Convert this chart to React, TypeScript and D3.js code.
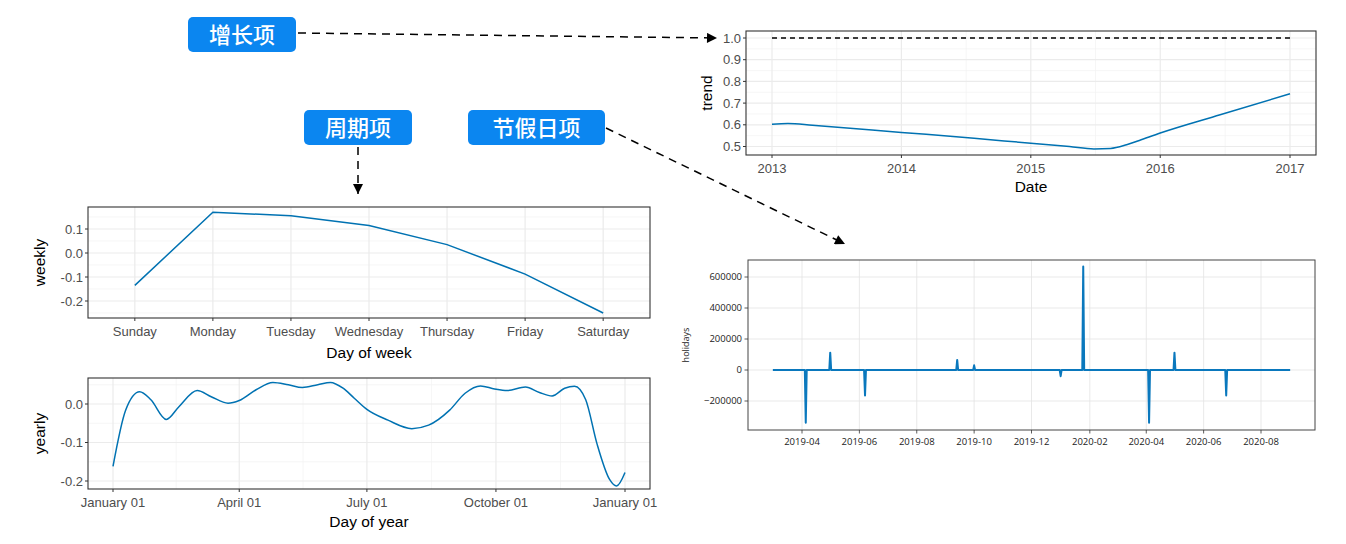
import * as d3 from "d3";

// trend component
const trendDates = ["2013-01-01", "2013-02-15", "2013-04-25", "2014-01-01", "2014-07-25", "2015-01-01", "2015-04-20", "2015-06-28", "2015-08-14", "2015-09-28", "2015-11-03", "2016-01-01", "2016-06-18", "2017-01-01"];
const trendValues = [0.603, 0.606, 0.598, 0.565, 0.538, 0.515, 0.5, 0.489, 0.491, 0.508, 0.528, 0.562, 0.646, 0.743];
const trendXTicks = ["2013", "2014", "2015", "2016", "2017"];
const trendYTicks = [0.5, 0.6, 0.7, 0.8, 0.9, 1.0];

// weekly component
const weekDays = ["Sunday", "Monday", "Tuesday", "Wednesday", "Thursday", "Friday", "Saturday"];
const weeklyValues = [-0.135, 0.17, 0.155, 0.115, 0.035, -0.088, -0.25];
const weeklyYTicks = [-0.2, -0.1, 0.0, 0.1];

// yearly component (day of year)
const yearlyDays = [0, 9, 19, 27, 38, 47, 60, 70, 82, 90, 102, 114, 125, 135, 146, 155, 164, 172, 181, 196, 213, 225, 240, 251, 262, 272, 281, 294, 304, 313, 322, 329, 337, 345, 354, 359, 365];
const yearlyValues = [-0.162, -0.016, 0.032, 0.011, -0.04, -0.007, 0.035, 0.019, 0.002, 0.009, 0.037, 0.056, 0.05, 0.043, 0.05, 0.056, 0.041, 0.015, -0.014, -0.042, -0.064, -0.055, -0.016, 0.028, 0.047, 0.039, 0.035, 0.044, 0.03, 0.021, 0.041, 0.046, 0.011, -0.103, -0.196, -0.213, -0.178];
const yearlyYTicks = [-0.2, -0.1, 0.0];
const yearlyXTicks = ["2017-01-01", "2017-04-01", "2017-07-01", "2017-10-01", "2018-01-01"];

// holidays component
const holidayRange = ["2019-03-01", "2020-09-01"];
const holidayDates = ["2019-04-05", "2019-05-01", "2019-06-07", "2019-09-13", "2019-10-01", "2020-01-01", "2020-01-25", "2020-04-04", "2020-05-01", "2020-06-25"];
const holidayValues = [-340000, 112000, -165000, 65000, 30000, -40000, 667000, -340000, 112000, -165000];
const holidayYTicks = [-200000, 0, 200000, 400000, 600000];
const holidayXTicks = ["2019-04-01", "2019-06-01", "2019-08-01", "2019-10-01", "2019-12-01", "2020-02-01", "2020-04-01", "2020-06-01", "2020-08-01"];

const LINE = "#0072B2";
const GG_FONT = "'Liberation Sans', Arial, sans-serif";
const MPL_FONT = "'Open Sans', 'DejaVu Sans', sans-serif";
const TICK = 13;
const TITLE = 15.5;
const parse = d3.timeParse("%Y-%m-%d");

const mid = (a: number[]) => a.slice(1).map((v, i) => (v + a[i]) / 2);

function GGFrame({ x0, x1, y0, y1 }: { x0: number; x1: number; y0: number; y1: number }) {
  return <rect x={x0} y={y0} width={x1 - x0} height={y1 - y0} fill="none" stroke="#333" strokeWidth={1.1} />;
}

function TrendPanel() {
  const x0 = 746, x1 = 1316, y0 = 31, y1 = 155;
  const dates = trendDates.map(d => parse(d)!);
  const x = d3.scaleTime().domain([parse("2013-01-01")!, parse("2017-01-01")!]).range([772, 1290]);
  const y = d3.scaleLinear().domain([0.5, 1.0]).range([146.5, 38]);
  const xt = trendXTicks.map(t => x(parse(t + "-01-01")!));
  const line = d3.line<number>().x((_, i) => x(dates[i])).y(v => y(v)).curve(d3.curveMonotoneX);
  return (
    <g fontFamily={GG_FONT}>
      {mid(trendYTicks).map(v => <line key={"ym" + v} x1={x0} x2={x1} y1={y(v)} y2={y(v)} stroke="#f2f2f2" strokeWidth={0.7} />)}
      {mid(xt).map(p => <line key={"xm" + p} x1={p} x2={p} y1={y0} y2={y1} stroke="#f2f2f2" strokeWidth={0.7} />)}
      {trendYTicks.map(v => <line key={"y" + v} x1={x0} x2={x1} y1={y(v)} y2={y(v)} stroke="#ebebeb" strokeWidth={1.2} />)}
      {xt.map(p => <line key={"x" + p} x1={p} x2={p} y1={y0} y2={y1} stroke="#ebebeb" strokeWidth={1.2} />)}
      <line x1={x(dates[0])} x2={x(dates[dates.length - 1])} y1={y(1)} y2={y(1)} stroke="#000" strokeWidth={1.3} strokeDasharray="5,4" />
      <path d={line(trendValues)!} fill="none" stroke={LINE} strokeWidth={1.5} />
      <GGFrame x0={x0} x1={x1} y0={y0} y1={y1} />
      {trendYTicks.map(v => (
        <g key={"yl" + v}>
          <line x1={x0 - 3} x2={x0} y1={y(v)} y2={y(v)} stroke="#333" />
          <text x={x0 - 5} y={y(v)} dy="0.35em" textAnchor="end" fontSize={TICK} fill="#4d4d4d">{v.toFixed(1)}</text>
        </g>
      ))}
      {trendXTicks.map((t, i) => (
        <g key={"xl" + t}>
          <line x1={xt[i]} x2={xt[i]} y1={y1} y2={y1 + 3} stroke="#333" />
          <text x={xt[i]} y={y1 + 18} textAnchor="middle" fontSize={TICK} fill="#4d4d4d">{t}</text>
        </g>
      ))}
      <text x={(x0 + x1) / 2} y={192} textAnchor="middle" fontSize={TITLE} fill="#000">Date</text>
      <text transform={`translate(712,${(y0 + y1) / 2}) rotate(-90)`} textAnchor="middle" fontSize={TITLE} fill="#000">trend</text>
    </g>
  );
}

function WeeklyPanel() {
  const x0 = 88, x1 = 650, y0 = 207, y1 = 318;
  const x = d3.scalePoint<string>().domain(weekDays).range([x0, x1]).padding(0.6);
  const y = d3.scaleLinear().domain([-0.2, 0.1]).range([301, 229]);
  const minor = [-0.25, -0.15, -0.05, 0.05, 0.15];
  const line = d3.line<number>().x((_, i) => x(weekDays[i])!).y(v => y(v));
  return (
    <g fontFamily={GG_FONT}>
      {minor.map(v => <line key={"ym" + v} x1={x0} x2={x1} y1={y(v)} y2={y(v)} stroke="#f2f2f2" strokeWidth={0.7} />)}
      {weeklyYTicks.map(v => <line key={"y" + v} x1={x0} x2={x1} y1={y(v)} y2={y(v)} stroke="#ebebeb" strokeWidth={1.2} />)}
      {weekDays.map(d => <line key={"x" + d} x1={x(d)} x2={x(d)} y1={y0} y2={y1} stroke="#ebebeb" strokeWidth={1.2} />)}
      <path d={line(weeklyValues)!} fill="none" stroke={LINE} strokeWidth={1.5} />
      <GGFrame x0={x0} x1={x1} y0={y0} y1={y1} />
      {weeklyYTicks.map(v => (
        <g key={"yl" + v}>
          <line x1={x0 - 3} x2={x0} y1={y(v)} y2={y(v)} stroke="#333" />
          <text x={x0 - 5} y={y(v)} dy="0.35em" textAnchor="end" fontSize={TICK} fill="#4d4d4d">{v.toFixed(1)}</text>
        </g>
      ))}
      {weekDays.map(d => (
        <g key={"xl" + d}>
          <line x1={x(d)} x2={x(d)} y1={y1} y2={y1 + 3} stroke="#333" />
          <text x={x(d)} y={y1 + 18} textAnchor="middle" fontSize={TICK} fill="#4d4d4d">{d}</text>
        </g>
      ))}
      <text x={(x0 + x1) / 2} y={358} textAnchor="middle" fontSize={TITLE} fill="#000">Day of week</text>
      <text transform={`translate(45,${(y0 + y1) / 2}) rotate(-90)`} textAnchor="middle" fontSize={TITLE} fill="#000">weekly</text>
    </g>
  );
}

function YearlyPanel() {
  const x0 = 88, x1 = 650, y0 = 378, y1 = 489;
  const x = d3.scaleTime().domain([parse(yearlyXTicks[0])!, parse(yearlyXTicks[4])!]).range([113, 625]);
  const y = d3.scaleLinear().domain([-0.2, 0.0]).range([481, 404]);
  const xt = yearlyXTicks.map(t => x(parse(t)!));
  const dayDate = (n: number) => d3.timeDay.offset(parse(yearlyXTicks[0])!, n);
  const minor = [-0.15, -0.05, 0.05];
  const fmt = d3.timeFormat("%B %d");
  const line = d3.line<number>().x((_, i) => x(dayDate(yearlyDays[i]))).y(v => y(v)).curve(d3.curveMonotoneX);
  return (
    <g fontFamily={GG_FONT}>
      {minor.map(v => <line key={"ym" + v} x1={x0} x2={x1} y1={y(v)} y2={y(v)} stroke="#f2f2f2" strokeWidth={0.7} />)}
      {mid(xt).map(p => <line key={"xm" + p} x1={p} x2={p} y1={y0} y2={y1} stroke="#f2f2f2" strokeWidth={0.7} />)}
      {yearlyYTicks.map(v => <line key={"y" + v} x1={x0} x2={x1} y1={y(v)} y2={y(v)} stroke="#ebebeb" strokeWidth={1.2} />)}
      {xt.map(p => <line key={"x" + p} x1={p} x2={p} y1={y0} y2={y1} stroke="#ebebeb" strokeWidth={1.2} />)}
      <path d={line(yearlyValues)!} fill="none" stroke={LINE} strokeWidth={1.5} />
      <GGFrame x0={x0} x1={x1} y0={y0} y1={y1} />
      {yearlyYTicks.map(v => (
        <g key={"yl" + v}>
          <line x1={x0 - 3} x2={x0} y1={y(v)} y2={y(v)} stroke="#333" />
          <text x={x0 - 5} y={y(v)} dy="0.35em" textAnchor="end" fontSize={TICK} fill="#4d4d4d">{v.toFixed(1)}</text>
        </g>
      ))}
      {yearlyXTicks.map((t, i) => (
        <g key={"xl" + t}>
          <line x1={xt[i]} x2={xt[i]} y1={y1} y2={y1 + 3} stroke="#333" />
          <text x={xt[i]} y={y1 + 18} textAnchor="middle" fontSize={TICK} fill="#4d4d4d">{fmt(parse(t)!)}</text>
        </g>
      ))}
      <text x={(x0 + x1) / 2} y={527} textAnchor="middle" fontSize={TITLE} fill="#000">Day of year</text>
      <text transform={`translate(45,${(y0 + y1) / 2}) rotate(-90)`} textAnchor="middle" fontSize={TITLE} fill="#000">yearly</text>
    </g>
  );
}

function HolidayPanel() {
  const x0 = 748, x1 = 1315, y0 = 260, y1 = 430;
  const x = d3.scaleTime().domain([parse(holidayXTicks[0])!, parse(holidayXTicks[8])!]).range([802, 1261]);
  const y = d3.scaleLinear().domain([0, 600000]).range([370, 277]);
  const pts: [Date, number][] = [[parse(holidayRange[0])!, 0]];
  holidayDates.forEach((d, i) => {
    const t = parse(d)!;
    pts.push([d3.timeDay.offset(t, -1), 0], [t, holidayValues[i]], [d3.timeDay.offset(t, 1), 0]);
  });
  pts.push([parse(holidayRange[1])!, 0]);
  const line = d3.line<[Date, number]>().x(p => x(p[0])).y(p => y(p[1]));
  return (
    <g fontFamily={MPL_FONT}>
      {holidayYTicks.map(v => <line key={"y" + v} x1={x0} x2={x1} y1={y(v)} y2={y(v)} stroke="#e3e3e3" strokeWidth={0.8} />)}
      {holidayXTicks.map(t => <line key={"x" + t} x1={x(parse(t)!)} x2={x(parse(t)!)} y1={y0} y2={y1} stroke="#e3e3e3" strokeWidth={0.8} />)}
      <path d={line(pts)!} fill="none" stroke="#0a78bd" strokeWidth={2} strokeLinejoin="round" />
      <rect x={x0} y={y0} width={x1 - x0} height={y1 - y0} fill="none" stroke="#444" strokeWidth={1} />
      {holidayYTicks.map(v => (
        <g key={"yl" + v}>
          <line x1={x0 - 3.5} x2={x0} y1={y(v)} y2={y(v)} stroke="#333" strokeWidth={0.8} />
          <text x={x0 - 6} y={y(v)} dy="0.35em" textAnchor="end" fontSize={9.5} fill="#222">{v < 0 ? "\u2212" + Math.abs(v) : v}</text>
        </g>
      ))}
      {holidayXTicks.map(t => (
        <g key={"xl" + t}>
          <line x1={x(parse(t)!)} x2={x(parse(t)!)} y1={y1} y2={y1 + 3.5} stroke="#333" strokeWidth={0.8} />
          <text x={x(parse(t)!)} y={y1 + 15} textAnchor="middle" fontSize={9.5} fill="#222">{t.slice(0, 7)}</text>
        </g>
      ))}
      <text transform={`translate(689,${(y0 + y1) / 2}) rotate(-90)`} textAnchor="middle" fontSize={9} fill="#222">holidays</text>
    </g>
  );
}

function Tag({ x, y, w, label }: { x: number; y: number; w: number; label: string }) {
  return (
    <g>
      <rect x={x} y={y} width={w} height={35} rx={5} fill="#0b86f0" />
      <text x={x + w / 2} y={y + 18} dy="0.36em" textAnchor="middle" fontSize={22} fontWeight={500} fill="#fff" fontFamily="'Noto Sans CJK SC', sans-serif">{label}</text>
    </g>
  );
}

export default function App() {
  return (
    <svg width={1346} height={544} style={{ position: "absolute", left: 0, top: 0, background: "#fff" }}>
      <defs>
        <marker id="head" viewBox="0 0 10 10" refX={10} refY={5} markerWidth={11} markerHeight={10} markerUnits="userSpaceOnUse" orient="auto">
          <path d="M0,0 L10,5 L0,10 Z" fill="#000" />
        </marker>
      </defs>
      <TrendPanel />
      <WeeklyPanel />
      <YearlyPanel />
      <HolidayPanel />
      <Tag x={188} y={17} w={108} label="增长项" />
      <Tag x={304} y={110} w={108} label="周期项" />
      <Tag x={468} y={110} w={137} label="节假日项" />
      <g stroke="#000" strokeWidth={1.5} strokeDasharray="8,6" fill="none">
        <line x1={298} y1={33} x2={717} y2={38} markerEnd="url(#head)" />
        <line x1={358} y1={147} x2={358} y2={194} markerEnd="url(#head)" />
        <line x1={606} y1={128} x2={845} y2={244} markerEnd="url(#head)" />
      </g>
    </svg>
  );
}
